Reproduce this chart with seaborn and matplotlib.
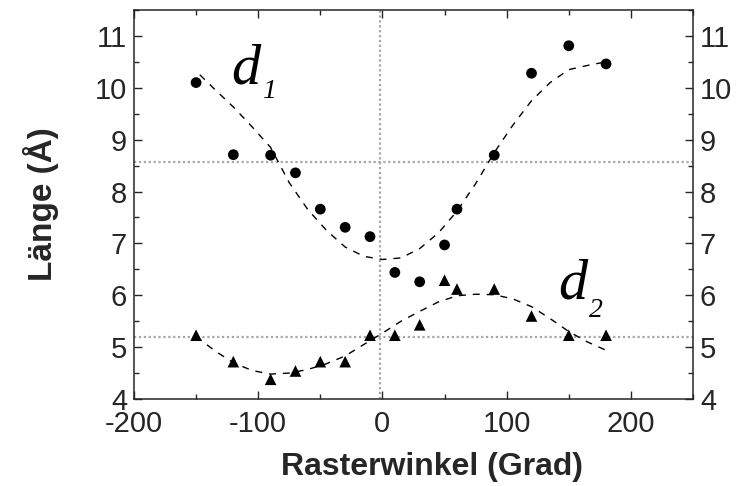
import numpy as np
import pandas as pd
import matplotlib
matplotlib.use("Agg")
import matplotlib.pyplot as plt
from matplotlib.ticker import MultipleLocator
import seaborn as sns

# Measured lengths per raster angle
angle = [-150, -120, -90, -70, -50, -30, -10, 10, 30, 50, 60, 90, 120, 150, 180]
d1 = [10.10, 8.71, 8.70, 8.36, 7.66, 7.31, 7.13, 6.44, 6.26, 6.97, 7.66, 8.70, 10.28, 10.81, 10.46]
d2 = [5.23, 4.72, 4.38, 4.54, 4.72, 4.72, 5.23, 5.23, 5.43, 6.29, 6.12, 6.12, 5.60, 5.23, 5.23]

# Fitted trend curves
fit_angle = [-147, -135, -120, -105, -90, -75, -60, -45, -30, -15, 0, 15, 30, 45, 60,
             75, 90, 105, 120, 135, 150, 165, 180]
fit_d1 = [10.25, 9.97, 9.63, 9.25, 8.85, 8.17, 7.65, 7.25, 6.93, 6.75, 6.69, 6.72, 6.90,
          7.20, 7.62, 8.15, 8.75, 9.28, 9.75, 10.10, 10.35, 10.43, 10.50]
fit_angle2 = [-150, -135, -120, -105, -90, -75, -60, -45, -30, -15, 0, 15, 30, 45, 60,
              75, 90, 105, 120, 135, 150, 165, 180]
fit_d2 = [5.21, 4.93, 4.70, 4.55, 4.48, 4.50, 4.57, 4.68, 4.83, 5.05, 5.27, 5.50, 5.69,
          5.87, 5.99, 6.02, 6.01, 5.93, 5.78, 5.55, 5.30, 5.10, 4.94]

# Reference lines
ref_angle = -2
ref_lengths = [8.56, 5.2]

xticks = [-200, -100, 0, 100, 200]
yticks = [4, 5, 6, 7, 8, 9, 10, 11]

sns.set_style("ticks")
plt.rcParams["font.family"] = ["Liberation Sans", "DejaVu Sans"]
plt.rcParams["axes.unicode_minus"] = False

fig = plt.figure(figsize=(7.36, 4.86), dpi=100)
ax = fig.add_axes([0.182, 0.179, 0.7596, 0.8005])

ref_style = dict(color="#a6a6a6", linestyle=(0, (1, 1.2)), linewidth=1.6, zorder=1)
ax.axvline(ref_angle, **ref_style)
for r in ref_lengths:
    ax.axhline(r, **ref_style)

pts = pd.DataFrame({"angle": angle, "d1": d1, "d2": d2})
fits1 = pd.DataFrame({"angle": fit_angle, "len": fit_d1})
fits2 = pd.DataFrame({"angle": fit_angle2, "len": fit_d2})

dash = dict(color="black", linewidth=1.0, dashes=(5, 5), zorder=2)
sns.lineplot(data=fits1, x="angle", y="len", ax=ax, sort=False, **dash)
sns.lineplot(data=fits2, x="angle", y="len", ax=ax, sort=False, **dash)

sns.scatterplot(data=pts, x="angle", y="d1", ax=ax, marker="o", s=60,
                color="black", edgecolor="none", zorder=3)
sns.scatterplot(data=pts, x="angle", y="d2", ax=ax, marker="^", s=70,
                color="black", edgecolor="none", zorder=3)

ax.set_xlim(-200, 250)
ax.set_ylim(4, 11.5)
ax.set_xticks(xticks)
ax.set_yticks(yticks)
ax.xaxis.set_minor_locator(MultipleLocator(50))
ax.yaxis.set_minor_locator(MultipleLocator(0.5))
ax.tick_params(which="both", direction="in", top=True, right=True,
               labelright=True, width=1.0, labelsize=21, pad=5)
ax.tick_params(axis="x", which="major", pad=8)
ax.tick_params(which="major", length=6)
ax.tick_params(which="minor", length=3.5)
for s in ax.spines.values():
    s.set_linewidth(1.1)

ax.set_xlabel("Rasterwinkel (Grad)", fontsize=23, fontweight="bold")
ax.xaxis.set_label_coords(0.533, -0.137)
ax.set_ylabel("Länge (Å)", fontsize=24, fontweight="bold", labelpad=26)

lab = dict(family=["Liberation Serif", "DejaVu Serif"], style="italic", color="black")
ax.text(-121.5, 10.085, "d", fontsize=42, **lab)
ax.text(-97, 9.80, "1", fontsize=20, **lab)
ax.text(141.4, 5.94, "d", fontsize=42, **lab)
ax.text(166, 5.59, "2", fontsize=20, **lab)

fig.savefig("out.png", dpi=100)
